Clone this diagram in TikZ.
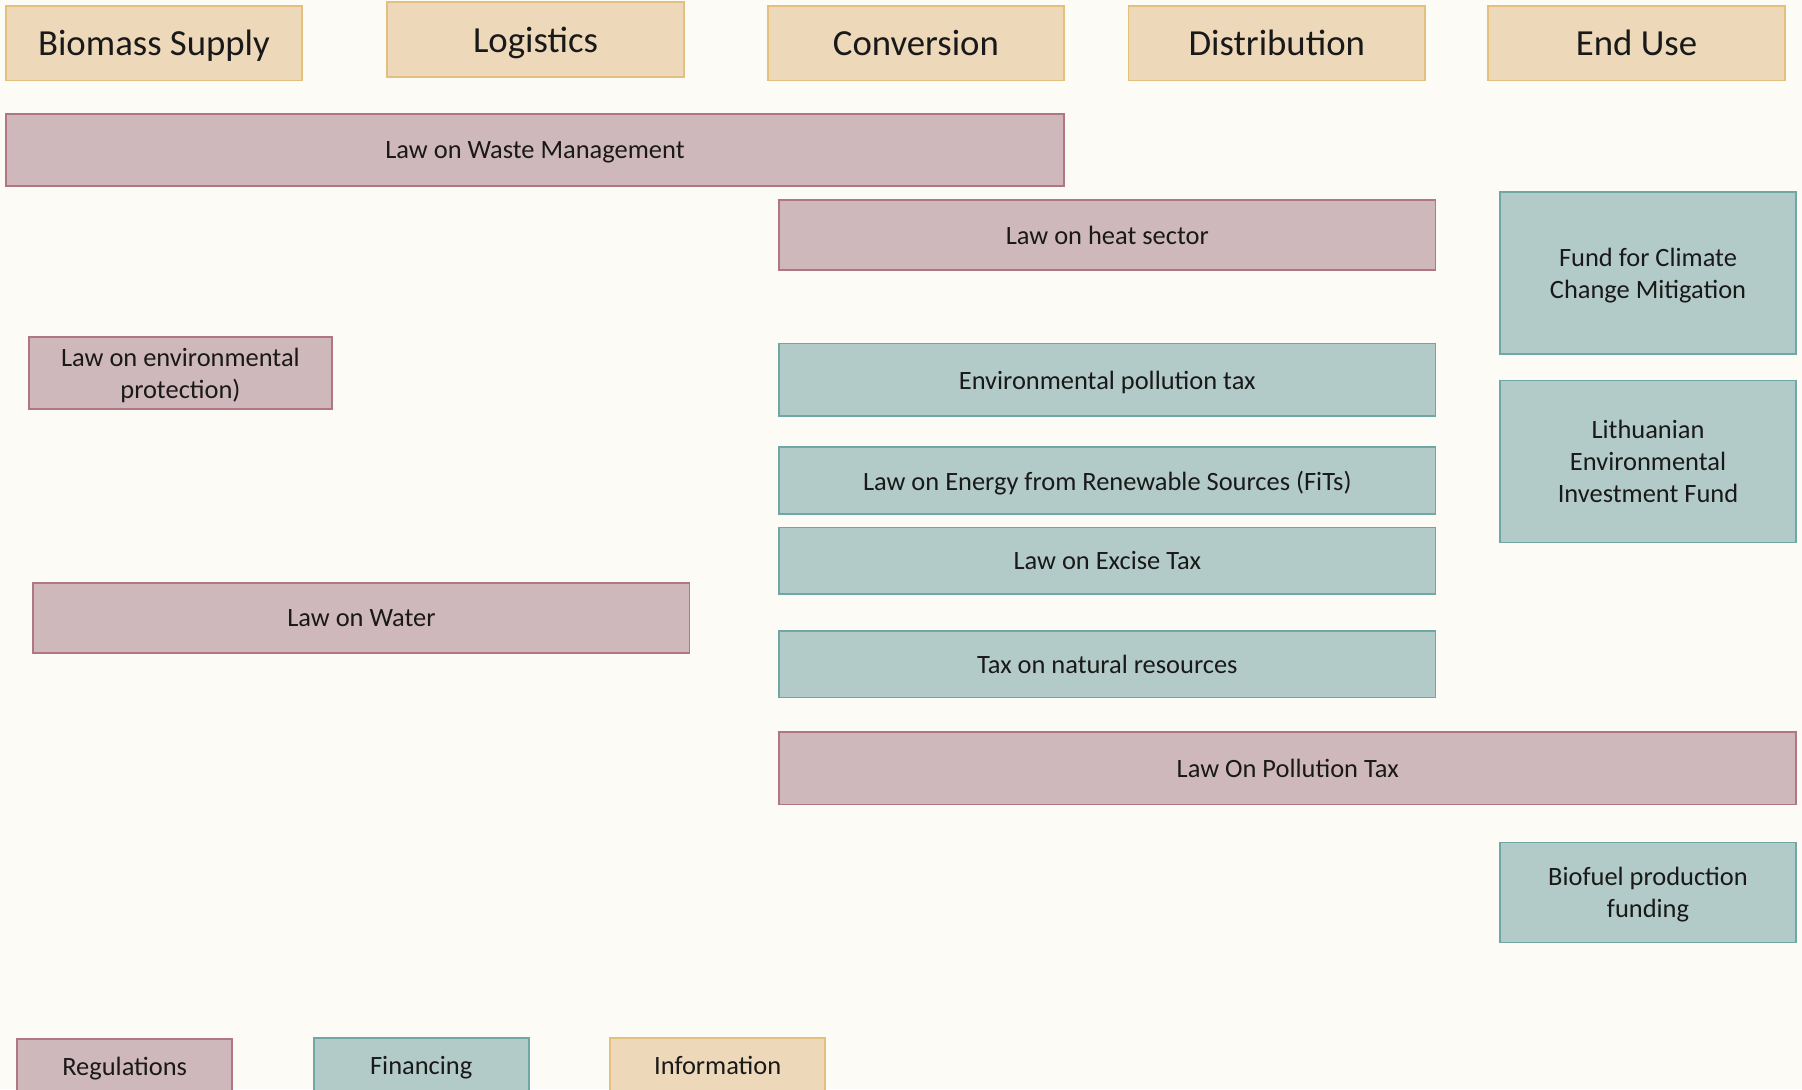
\documentclass[tikz,border=0pt]{standalone}
\usepackage{fontspec}
\setmainfont{Carlito}
\definecolor{paperBg}{HTML}{FDFBF6}
\definecolor{regFill}{HTML}{CFB8BB}
\definecolor{regLine}{HTML}{B07782}
\definecolor{finFill}{HTML}{B3CBC8}
\definecolor{finLine}{HTML}{6FA8A3}
\definecolor{infoFill}{HTML}{EDD9BA}
\definecolor{infoLine}{HTML}{E4C07D}

\begin{document}
\begin{tikzpicture}
[x=1pt,y=-1pt,
  boxDecorate/.style={shape=rectangle,line width=1.5pt,inner sep=0pt,outer sep=0pt,
    align=center,text depth=0pt,text=black!90,font=\fontsize{23}{28}\selectfont},
  regDecorate/.style={boxDecorate,fill=regFill,draw=regLine},
  finDecorate/.style={boxDecorate,fill=finFill,draw=finLine},
  infoDecorate/.style={boxDecorate,fill=infoFill,draw=infoLine},
  headDecorate/.style={infoDecorate,font=\fontsize{32}{38}\selectfont}]
\useasboundingbox (0,0) rectangle (1568,948);
\fill[paperBg] (0,0) rectangle (1568,948);
%% value chain stages
\foreach \nodename/\x/\y/\label in {
  biomass/134/37.5/Biomass Supply, logistics/466/34.5/Logistics,
  conversion/797/37.5/Conversion, distribution/1111/37.5/Distribution,
  enduse/1424/37.5/End Use}
{
  \node (\nodename) at (\x,\y) [headDecorate,minimum width=258pt,minimum height=65pt] {\label};
}
%% regulations
\foreach \nodename/\x/\y/\w/\h/\label in {
  waste/465.5/130.5/921/63/{Law on Waste Management},
  heat/963.5/204.5/571/61/{Law on heat sector},
  envprot/157/324.5/264/63/{Law on environmental\\protection)},
  water/314.5/537.5/571/61/{Law on Water},
  pollution/1120.5/668.5/885/63/{Law On Pollution Tax}}
{
  \node (\nodename) at (\x,\y) [regDecorate,minimum width=\w pt,minimum height=\h pt] {\label};
}
%% financing
\foreach \nodename/\x/\y/\w/\h/\label in {
  climate/1434/237.5/258/141/{Fund for Climate\\Change Mitigation},
  envtax/963.5/330.5/571/63/{Environmental pollution tax},
  lithuanian/1434/401.5/258/141/{Lithuanian\\Environmental\\Investment Fund},
  renewable/963.5/418/571/58/{Law on Energy from Renewable Sources (FiTs)},
  excise/963.5/488/571/58/{Law on Excise Tax},
  natural/963.5/578/571/58/{Tax on natural resources},
  biofuel/1434/776.5/258/87/{Biofuel production\\funding}}
{
  \node (\nodename) at (\x,\y) [finDecorate,minimum width=\w pt,minimum height=\h pt] {\label};
}
%% legend
\node (legReg) at (108.5,928) [regDecorate,minimum width=187pt,minimum height=48pt] {Regulations};
\node (legFin) at (366.5,927) [finDecorate,minimum width=187pt,minimum height=48pt] {Financing};
\node (legInfo) at (624.5,927) [infoDecorate,minimum width=187pt,minimum height=48pt] {Information};
\end{tikzpicture}
\end{document}
